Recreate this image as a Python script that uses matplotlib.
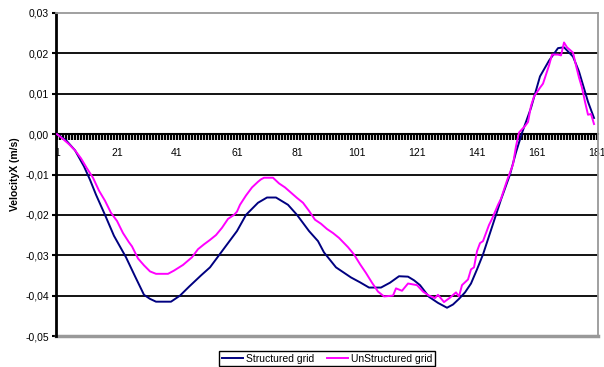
import matplotlib
matplotlib.use('Agg')
import matplotlib.pyplot as plt

plt.rcParams['font.family'] = ['Liberation Sans', 'DejaVu Sans']

# structured grid (category, velocity)
s_x = [1, 4, 7, 10, 12, 14, 17, 20, 24, 27, 30, 32, 34, 39, 42, 45, 49, 52, 55, 58,
       61, 64, 68, 71, 74, 78, 81, 85, 88, 90, 94, 99, 102, 105, 109, 112, 115, 118,
       120, 122, 125, 128, 131, 133, 135, 137, 139, 141, 143, 146, 149, 152, 154, 156,
       159, 162, 165, 168, 170, 173, 175, 177, 178, 180]
s_y = [0.000, -0.0015, -0.004, -0.008, -0.0113, -0.015, -0.020, -0.0252, -0.0305, -0.0352,
       -0.0398, -0.0408, -0.0415, -0.0415, -0.0400, -0.0378, -0.0350, -0.0330, -0.0300, -0.0270,
       -0.0240, -0.0200, -0.0170, -0.0157, -0.0157, -0.0175, -0.0200, -0.0240, -0.0265, -0.0293,
       -0.0330, -0.0355, -0.0367, -0.0380, -0.0380, -0.0368, -0.0352, -0.0353, -0.0362, -0.0374,
       -0.0403, -0.0418, -0.0430, -0.0422, -0.0408, -0.0392, -0.0370, -0.0335, -0.0298, -0.0230,
       -0.0162, -0.0100, -0.0045, 0.0003, 0.0065, 0.0143, 0.0182, 0.0213, 0.0215, 0.0192,
       0.0155, 0.0105, 0.0080, 0.0040]

# unstructured grid
u_x = [1, 3, 5, 7, 9, 11, 13, 15, 17, 19, 21, 23, 25, 26, 28, 30, 32, 34, 38, 40,
       43, 46, 48, 50, 52, 54, 56, 58, 60, 61, 62, 64, 66, 68, 69, 70, 73, 75, 77, 79,
       81, 83, 85, 87, 89, 91, 93, 95, 98, 100, 102, 104, 106, 108, 110, 113, 114, 116, 118, 121,
       123, 125, 127, 128, 130, 132, 134, 135, 136, 138, 139, 140, 141, 142, 143, 145, 146, 148, 149, 151,
       153, 154, 155, 157, 158, 159, 160, 162, 163, 165, 166, 168, 169, 170, 171, 173, 174, 175, 176, 177,
       178, 179, 180]
u_y = [0.000, -0.0012, -0.0025, -0.004, -0.006, -0.0085, -0.0108, -0.0140, -0.0165, -0.0195,
       -0.0215, -0.0245, -0.0268, -0.0278, -0.0308, -0.0325, -0.0340, -0.0346, -0.0346, -0.0338,
       -0.0324, -0.0305, -0.0285, -0.0273, -0.0262, -0.0250, -0.0232, -0.0210, -0.0200, -0.0192,
       -0.0175, -0.0152, -0.0132, -0.0118, -0.0112, -0.0108, -0.0108, -0.0122, -0.0132, -0.0145,
       -0.0158, -0.0170, -0.0190, -0.0212, -0.0222, -0.0235, -0.0245, -0.0257, -0.0280, -0.0298,
       -0.0322, -0.0344, -0.0368, -0.0390, -0.0402, -0.0400, -0.0382, -0.0388, -0.0370, -0.0374,
       -0.0390, -0.0400, -0.0406, -0.0398, -0.0416, -0.0405, -0.0392, -0.0402, -0.0374, -0.0360,
       -0.0335, -0.0330, -0.0290, -0.0270, -0.0265, -0.0225, -0.0210, -0.0175, -0.0160, -0.0115,
       -0.0075, -0.0030, 0.0004, 0.0020, 0.0030, 0.0070, 0.0093, 0.0115, 0.0125, 0.0170,
       0.0197, 0.0197, 0.0195, 0.0227, 0.0215, 0.0202, 0.0170, 0.0140, 0.0115, 0.0080,
       0.0048, 0.0050, 0.0025]

y_ticks = [-0.05, -0.04, -0.03, -0.02, -0.01, 0.0, 0.01, 0.02, 0.03]
x_labels = [1, 21, 41, 61, 81, 101, 121, 141, 161, 181]

fig = plt.figure(figsize=(6.04, 3.67), dpi=100)
ax = fig.add_axes([56 / 604, 31 / 367, 542 / 604, 323 / 367])

# horizontal gridlines
for v in y_ticks[1:-1]:
    if v != 0:
        ax.axhline(v, color='black', lw=1.3, zorder=1)

ax.plot(s_x, s_y, color='#000080', lw=1.4, label='Structured grid', zorder=3)
ax.plot(u_x, u_y, color='#ff00ff', lw=1.4, label='UnStructured grid', zorder=3)

ax.set_xlim(0.67, 181.33)
ax.set_ylim(-0.05, 0.03)

# category axis crossing at zero
ax.spines['bottom'].set_position(('data', 0))
ax.spines['bottom'].set_linewidth(1.5)
ax.spines['bottom'].set_zorder(2)
ax.spines['left'].set_linewidth(2)
ax.spines['top'].set_color('#999999')
ax.spines['right'].set_color('#999999')
ax.spines['right'].set_linewidth(1.3)
ax.spines['top'].set_linewidth(1.3)

ax.set_xticks(range(1, 182))
ax.set_xticklabels([str(i) if i in x_labels else '' for i in range(1, 182)])
ax.tick_params(axis='x', direction='out', length=4, width=1.6, color='black',
               labelsize=7.5, pad=6)

ax.set_yticks(y_ticks)
ax.set_yticklabels([('%.2f' % v).replace('.', ',') for v in y_ticks])
ax.tick_params(axis='y', direction='out', length=3, width=1.5, labelsize=7.5, pad=2)

# gray bottom border of plot area
ax.axhline(-0.05, color='#999999', lw=2.5, clip_on=False, zorder=2)

ax.set_ylabel('VelocityX (m/s)', fontsize=7.5, fontweight='bold', labelpad=4)

fig.legend(loc='lower center', bbox_to_anchor=(327 / 604, -0.012), ncol=2,
           fontsize=7.5, frameon=True, fancybox=False, edgecolor='black',
           handlelength=2.0, handletextpad=0.3, columnspacing=1.2,
           borderpad=0.25, framealpha=1)

fig.savefig('out.png', dpi=100)
